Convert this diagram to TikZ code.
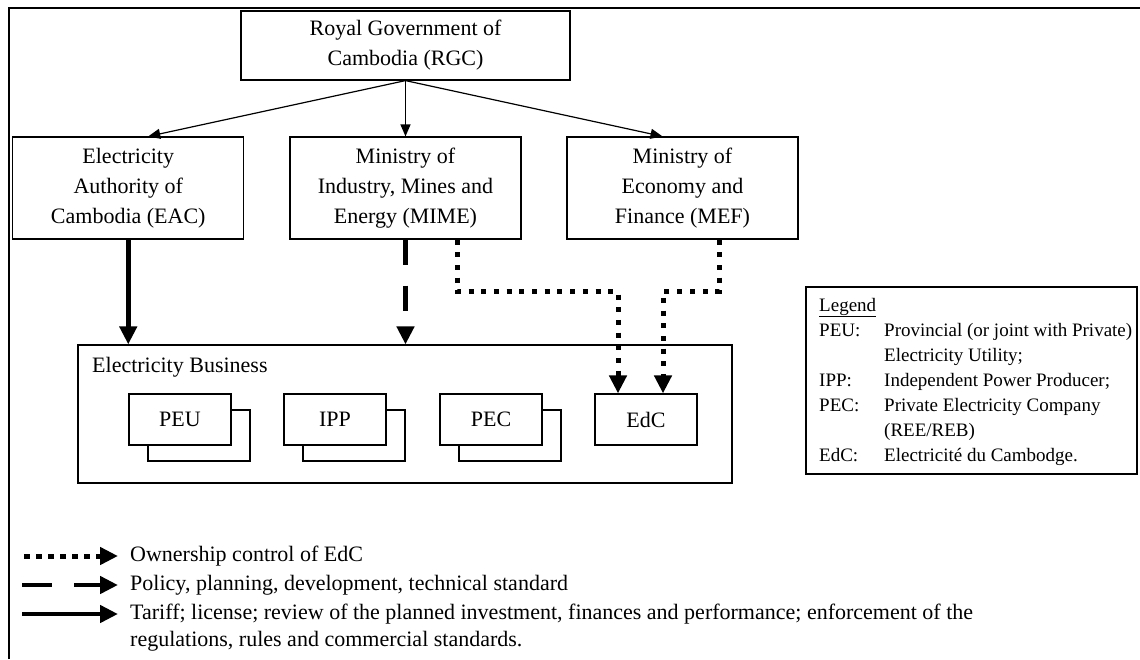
\documentclass[tikz,border=0pt]{standalone}
\usepackage{fontspec}
\setmainfont{Liberation Serif}
\usetikzlibrary{arrows.meta,calc}
\begin{document}
\begin{tikzpicture}[x=1pt,y=-1pt,
  box/.style={draw, line width=1.2pt, inner sep=0pt, align=center, font=\fontsize{22}{30}\selectfont},
  topbox/.style={box, minimum width=231pt, minimum height=102pt},
  unitbox/.style={draw, line width=1.2pt, inner sep=0pt, minimum width=102pt, minimum height=51pt, font=\fontsize{22}{30}\selectfont},
  bigtext/.style={inner sep=0pt, anchor=base west, font=\fontsize{22}{30}\selectfont},
  legtext/.style={inner sep=0pt, anchor=base west, font=\fontsize{19}{25}\selectfont},
  thinarrow/.style={line width=1.2pt, -{Triangle[length=12pt,width=10pt]}},
  thickarrow/.style={line width=4.5pt, -{Triangle[length=18pt,width=17pt]}},
  dasharrow/.style={line width=4.5pt, dash pattern=on 25pt off 21pt, -{Triangle[length=18pt,width=17pt]}},
  legdasharrow/.style={line width=4.5pt, dash pattern=on 30pt off 22pt, -{Triangle[length=18pt,width=17pt]}},
  dotarrow/.style={line width=5pt, dash pattern=on 5pt off 7.7pt, -{Triangle[length=18pt,width=17pt]}},
  legdotarrow/.style={line width=5pt, dash pattern=on 6pt off 6pt, -{Triangle[length=18pt,width=17pt]}}
]
\useasboundingbox (0,0) rectangle (1140,659);
\fill[white] (0,0) rectangle (1140,659);
% outer frame
\draw[line width=2pt] (9,659) -- (9,7.5) -- (1140,7.5);

% top level
\node[box, minimum width=329pt, minimum height=69pt] (rgc) at (405.5,45.5) {Royal Government of\\Cambodia (RGC)};
\node[topbox] (eac) at (128.25,188) {Electricity\\Authority of\\Cambodia (EAC)};
\node[topbox] (mime) at (405.5,188) {Ministry of\\Industry, Mines and\\Energy (MIME)};
\node[topbox] (mef) at (682.5,188) {Ministry of\\Economy and\\Finance (MEF)};

% electricity business
\node[draw, line width=1.2pt, inner sep=0pt, minimum width=654pt, minimum height=138pt] (eb) at (405,414) {};
\node[bigtext] (ebl) at (92,372) {Electricity Business};

\node[unitbox] (peus) at (199,435.5) {};
\node[unitbox, fill=white] (peu) at (180,419.5) {PEU};
\node[unitbox] (ipps) at (354,435.5) {};
\node[unitbox, fill=white] (ipp) at (335,419.5) {IPP};
\node[unitbox] (pecs) at (510,435.5) {};
\node[unitbox, fill=white] (pec) at (491,419.5) {PEC};
\node[unitbox, fill=white] (edc) at (646,419.5) {EdC};

% connectors
\draw[thinarrow] (rgc.south) -- ($(eac.north)+(20,0)$);
\draw[thinarrow] (rgc.south) -- (mime.north);
\draw[thinarrow] (rgc.south) -- ($(mef.north)+(-20,0)$);

\draw[thickarrow] (eac.south) -- (eac.south |- eb.north);
\draw[dasharrow] (mime.south) -- (mime.south |- eb.north);
\draw[dotarrow] ($(mime.south)+(51.5,0)$) -- ++(0,52) -| ($(edc.north)+(-28,0)$);
\draw[dotarrow] ($(mef.south)+(36.5,0)$) -- ++(0,52) -| ($(edc.north)+(17,0)$);

% legend box
\node[draw, line width=1.2pt, inner sep=0pt, minimum width=331pt, minimum height=187pt] (legbox) at (971.5,380.5) {};
\node[legtext] (lg) at (819,311) {\underline{Legend}};
\node[legtext] (k1) at (819,336) {PEU:};
\node[legtext] (d1) at (884,336) {Provincial (or joint with Private)};
\node[legtext] (d1b) at (884,361) {Electricity Utility;};
\node[legtext] (k2) at (819,386) {IPP:};
\node[legtext] (d2) at (884,386) {Independent Power Producer;};
\node[legtext] (k3) at (819,411) {PEC:};
\node[legtext] (d3) at (884,411) {Private Electricity Company};
\node[legtext] (d3b) at (884,436) {(REE/REB)};
\node[legtext] (k4) at (819,461) {EdC:};
\node[legtext] (d4) at (884,461) {Electricité du Cambodge.};

% line legend
\coordinate (a1s) at (24,556); \coordinate (a1e) at (118,556);
\coordinate (a2s) at (22,585); \coordinate (a2e) at (118,585);
\coordinate (a3s) at (22,614); \coordinate (a3e) at (118,614);
\draw[legdotarrow] (a1s) -- (a1e);
\draw[legdasharrow] (a2s) -- (a2e);
\draw[thickarrow] (a3s) -- (a3e);
\node[bigtext] (t1) at (130,561) {Ownership control of EdC};
\node[bigtext] (t2) at (130,590) {Policy, planning, development, technical standard};
\node[bigtext] (t3) at (130,619) {Tariff; license; review of the planned investment, finances and performance; enforcement of the};
\node[bigtext] (t3b) at (130,646) {regulations, rules and commercial standards.};
\end{tikzpicture}
\end{document}
